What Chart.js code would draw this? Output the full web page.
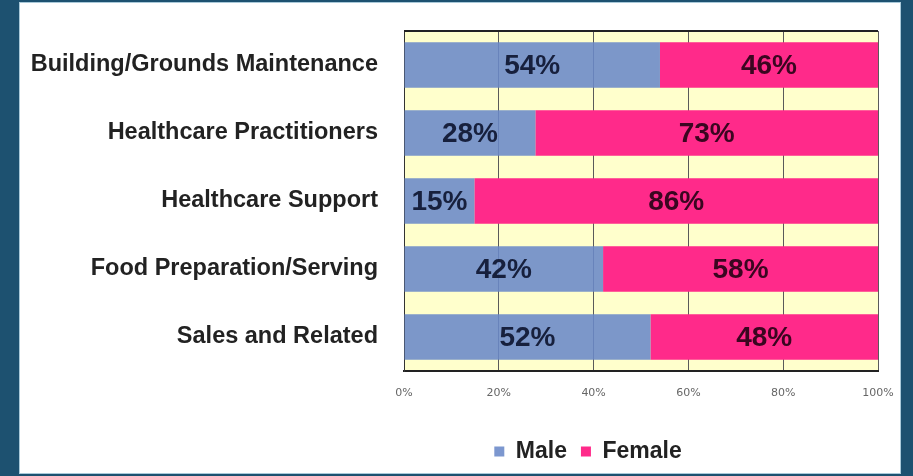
<!DOCTYPE html>
<html>
<head>
<meta charset="utf-8">
<script src="https://cdn.jsdelivr.net/npm/chart.js@4.4.1/dist/chart.umd.min.js"></script>
<style>
  html, body { margin: 0; padding: 0; }
  body { width: 913px; height: 476px; background: #1d5170; position: relative; overflow: hidden; }
  .panel { position: absolute; left: 20px; top: 3px; width: 880px; height: 470px; background: #fff; box-shadow: 0 0 0 1px #a9c9d9; }
  canvas { display: block; }
</style>
</head>
<body>
<div class="panel"><canvas id="myChart" width="880" height="470"></canvas></div>
<script>
// data
const categories = ['Building/Grounds Maintenance', 'Healthcare Practitioners', 'Healthcare Support', 'Food Preparation/Serving', 'Sales and Related'];
const maleValues = [54, 28, 15, 42, 52];
const femaleValues = [46, 73, 86, 58, 48];
const tickLabels = ['0%', '20%', '40%', '60%', '80%', '100%'];

// 100% stacked: each row is scaled to its own total
const share = (v, i) => v / (maleValues[i] + femaleValues[i]) * 100;
const rawValues = [maleValues, femaleValues];

// yellow plot background + top border
const plotBox = {
  id: 'plotBox',
  beforeDraw(chart) {
    const { ctx, chartArea: a } = chart;
    ctx.save();
    ctx.fillStyle = '#ffffcc';
    ctx.fillRect(a.left, a.top, a.right - a.left, a.bottom - a.top);
    ctx.restore();
  },
  afterDraw(chart) {
    const { ctx, chartArea: a } = chart;
    ctx.save();
    ctx.strokeStyle = '#222';
    ctx.lineWidth = 2;
    ctx.beginPath();
    ctx.moveTo(a.left, a.top);
    ctx.lineTo(a.right, a.top);
    ctx.stroke();
    ctx.restore();
  }
};

// percent labels in the middle of every segment
const segLabels = {
  id: 'segLabels',
  afterDatasetsDraw(chart) {
    const ctx = chart.ctx;
    const colors = ['#17203d', '#3a0620'];
    ctx.save();
    ctx.font = 'bold 28px "Liberation Sans", Arial, sans-serif';
    ctx.textAlign = 'center';
    ctx.textBaseline = 'middle';
    chart.data.datasets.forEach((ds, d) => {
      chart.getDatasetMeta(d).data.forEach((el, i) => {
        ctx.fillStyle = colors[d];
        ctx.fillText(rawValues[d][i] + '%', (el.x + el.base) / 2, el.y + 1);
      });
    });
    ctx.restore();
  }
};

// move legend to sit under the right half like the original
const legendShift = {
  id: 'legendShift',
  afterLayout(chart) {
    if (chart.legend) {
      chart.legend.left += 139;
      chart.legend.right += 139;
    }
  }
};

const ctx = document.getElementById('myChart').getContext('2d');
const myChart = new Chart(ctx, {
  type: 'bar',
  data: {
    labels: categories,
    datasets: [{
      label: 'Male',
      data: maleValues.map(share),
      backgroundColor: 'rgba(106,137,200,0.88)',
      barPercentage: 0.67,
      categoryPercentage: 1
    }, {
      label: 'Female',
      data: femaleValues.map(share),
      backgroundColor: '#ff2a8a',
      barPercentage: 0.67,
      categoryPercentage: 1
    }]
  },
  options: {
    indexAxis: 'y',
    responsive: false,
    animation: false,
    layout: { padding: { top: 28, right: 22, left: 0, bottom: 0 } },
    plugins: {
      tooltip: { enabled: false },
      legend: {
        position: 'bottom',
        labels: {
          boxWidth: 10,
          boxHeight: 10,
          padding: 14,
          color: '#222',
          font: { family: '"Liberation Sans", Arial, sans-serif', size: 23, weight: 'bold' }
        }
      }
    },
    scales: {
      x: {
        stacked: true,
        min: 0,
        max: 100,
        afterFit: s => { s.height = 55; s.paddingLeft = 0; s.paddingRight = 0; },
        grid: { color: '#5a5a5a', lineWidth: 1, drawTicks: false },
        border: { display: true, color: '#222', width: 2 },
        ticks: {
          stepSize: 20,
          padding: 16,
          color: '#666',
          font: { family: '"DejaVu Sans", Verdana, sans-serif', size: 11 },
          callback: (v, i) => tickLabels[i]
        }
      },
      y: {
        stacked: true,
        afterFit: s => { s.width = 384; s.paddingTop = 0; s.paddingBottom = 0; },
        grid: { display: false, drawTicks: false },
        border: { display: true, color: '#333', width: 1 },
        ticks: {
          padding: 26,
          color: '#222',
          font: { family: '"Liberation Sans", Arial, sans-serif', size: 23.5, weight: 'bold' }
        }
      }
    }
  },
  plugins: [plotBox, segLabels, legendShift]
});
</script>
</body>
</html>
